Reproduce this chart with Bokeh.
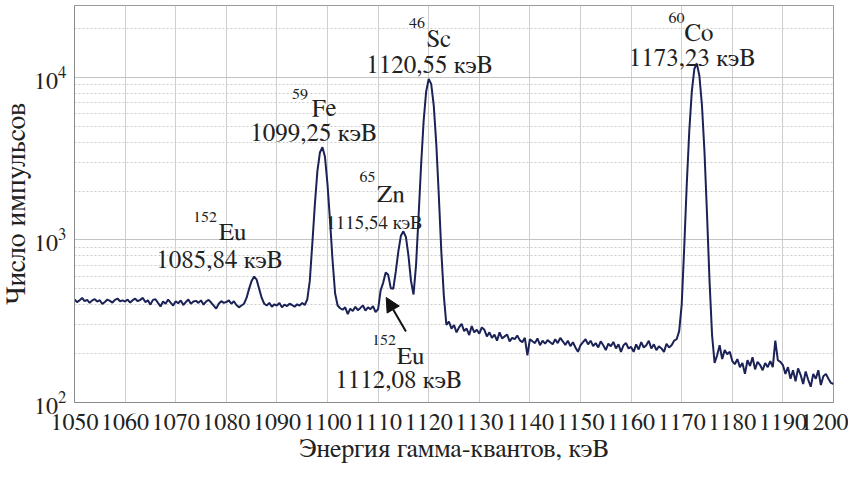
import numpy as np
from bokeh.plotting import figure
from bokeh.models import (ColumnDataSource, FixedTicker, LogTicker, Range1d,
                          Arrow, NormalHead)
from bokeh.core.properties import value
from bokeh.embed import file_html
from bokeh.resources import INLINE

# ---------------- data ----------------
e_start, e_stop, e_step = 1050.0, 1200.0, 0.5
counts_1050 = [430, 415, 425, 440, 420, 428, 410, 425, 432, 418, 426, 404, 415, 430, 422, 412, 428, 436, 420, 425]
counts_1060 = [418, 430, 412, 426, 435, 420, 428, 440, 415, 425, 400, 428, 432, 410, 390, 418, 405, 430, 412, 395]
counts_1070 = [420, 408, 425, 398, 415, 430, 405, 418, 422, 410, 425, 400, 418, 428, 412, 395, 378, 405, 420, 410]
counts_1080 = [415, 425, 405, 420, 398, 385, 395, 405, 440, 500, 560, 595, 570, 500, 440, 405, 395, 410, 388, 402]
counts_1090 = [395, 410, 385, 400, 392, 405, 398, 388, 402, 395, 410, 398, 430, 560, 950, 1650, 2650, 3450, 3720, 3250]
counts_1100 = [2200, 1310, 750, 470, 395, 380, 372, 385, 350, 378, 365, 388, 370, 382, 395, 368, 385, 375, 392, 360]
counts_1110 = [375, 490, 545, 630, 610, 505, 500, 640, 850, 1060, 1130, 1040, 800, 560, 462, 700, 1400, 2900, 5400, 8200]
counts_1120 = [9800, 9100, 6700, 3900, 1870, 840, 450, 300, 315, 285, 300, 270, 290, 305, 275, 285, 260, 295, 270, 280]
counts_1130 = [265, 290, 280, 255, 270, 250, 262, 240, 270, 248, 255, 262, 238, 250, 245, 258, 242, 235, 250, 195]
counts_1140 = [245, 238, 232, 248, 225, 240, 230, 242, 235, 228, 245, 232, 250, 238, 226, 240, 222, 235, 218, 205]
counts_1150 = [225, 235, 245, 228, 240, 222, 232, 218, 238, 225, 210, 230, 222, 236, 215, 228, 205, 225, 232, 215]
counts_1160 = [220, 205, 228, 212, 235, 218, 225, 240, 215, 228, 210, 222, 215, 205, 230, 218, 225, 240, 245, 275]
counts_1170 = [400, 900, 2200, 4700, 8200, 11300, 12150, 10200, 6750, 3500, 1450, 560, 260, 175, 195, 225, 185, 210, 198, 205]
counts_1180 = [180, 172, 185, 165, 175, 150, 182, 168, 190, 160, 178, 170, 158, 175, 165, 180, 165, 240, 182, 178]
counts_1190 = [170, 150, 165, 140, 158, 135, 162, 148, 130, 155, 138, 125, 150, 140, 158, 128, 145, 150, 140, 132, 130]

counts = (counts_1050 + counts_1060 + counts_1070 + counts_1080 + counts_1090 +
          counts_1100 + counts_1110 + counts_1120 + counts_1130 + counts_1140 +
          counts_1150 + counts_1160 + counts_1170 + counts_1180 + counts_1190)
energy = np.arange(e_start, e_stop + e_step / 2, e_step)

x_ticks = [1050, 1060, 1070, 1080, 1090, 1100, 1110, 1120, 1130, 1140,
           1150, 1160, 1170, 1180, 1190, 1200]

# peak labels: mass number, element, energy text
iso_mass = ["152", "59", "65", "46", "60", "152"]
iso_elem = ["Eu", "Fe", "Zn", "Sc", "Co", "Eu"]
iso_energy = ["1085,84 кэВ", "1099,25 кэВ", "1115,54 кэВ", "1120,55 кэВ", "1173,23 кэВ", "1112,08 кэВ"]

# label placement (data coordinates)
mass_x = [1073.4, 1093.0, 1106.3, 1116.1, 1167.4, 1108.8]
mass_y = [1295, 7465, 2279, 20350, 21840, 228]
elem_x = [1078.5, 1096.9, 1109.8, 1119.6, 1170.5, 1113.7]
elem_y = [1033, 5957, 1767, 16010, 17420, 179]
en_x = [1078.6, 1097.2, 1109.2, 1120.1, 1172.0, 1114.0]
en_y = [696, 4183, 1173, 11090, 12240, 128]
en_size = ["25px", "25px", "19px", "25px", "25px", "25px"]

FONT = "FreeSerif"
TXT = "#222222"

p = figure(width=848, height=464, output_backend="svg", toolbar_location=None,
           y_axis_type="log",
           x_range=Range1d(e_start, e_stop), y_range=Range1d(100, 27700),
           min_border_left=72, min_border_right=15, min_border_top=5,
           min_border_bottom=61)

p.line(energy, counts, line_color="#1b2255", line_width=2)

# texts
p.text(x=mass_x, y=mass_y, text=iso_mass, text_font=value(FONT),
       text_font_size="16px", text_color=TXT, text_align="left",
       text_baseline="alphabetic", y_offset=-5)
p.text(x=elem_x, y=elem_y, text=iso_elem, text_font=value(FONT),
       text_font_size="25px", text_color=TXT, text_align="left",
       text_baseline="alphabetic", y_offset=-5)
src_en = ColumnDataSource(dict(x=en_x, y=en_y, t=iso_energy, s=en_size))
p.text(x="x", y="y", text="t", source=src_en, text_font=value(FONT),
       text_font_size="s", text_color=TXT, text_align="center",
       text_baseline="alphabetic", y_offset=-5)

# arrow to the 1112 keV peak
p.add_layout(Arrow(end=NormalHead(size=14, fill_color="#111111", line_color="#111111"),
                   x_start=1115.5, y_start=273, x_end=1111.6, y_end=443,
                   line_color="#111111", line_width=2))

# axes
p.xaxis.ticker = FixedTicker(ticks=x_ticks)
p.yaxis.ticker = LogTicker(num_minor_ticks=10)
for ax in (p.xaxis[0], p.yaxis[0]):
    ax.major_label_text_font = FONT
    ax.major_label_text_font_size = "24px"
    ax.major_label_text_color = TXT
    ax.axis_label_text_font = FONT
    ax.axis_label_text_font_style = "normal"
    ax.axis_label_text_color = TXT
    ax.axis_line_color = "#8a8a8a"
    ax.major_tick_line_color = None
    ax.minor_tick_line_color = None

p.xaxis.axis_label_text_font_size = "26px"
p.yaxis.axis_label_text_font_size = "28px"
p.xaxis.major_label_standoff = 5
p.yaxis.major_label_standoff = 2
p.xaxis.axis_label = "Энергия гамма-квантов, кэВ"
p.yaxis.axis_label = "Число импульсов"
p.xaxis.axis_label_standoff = 3
p.yaxis.axis_label_standoff = 0

# grids
p.xgrid.grid_line_color = "#cfcfcf"
p.xgrid.grid_line_width = 1
p.ygrid.grid_line_color = "#c4c4c4"
p.ygrid.grid_line_width = 1
p.ygrid.minor_grid_line_color = "#cccccc"
p.ygrid.minor_grid_line_dash = "2 2"
p.ygrid.minor_grid_line_width = 1

p.outline_line_color = "#9a9a9a"
p.background_fill_color = "white"
p.border_fill_color = "white"

open("out.html", "w").write(file_html(p, INLINE))
